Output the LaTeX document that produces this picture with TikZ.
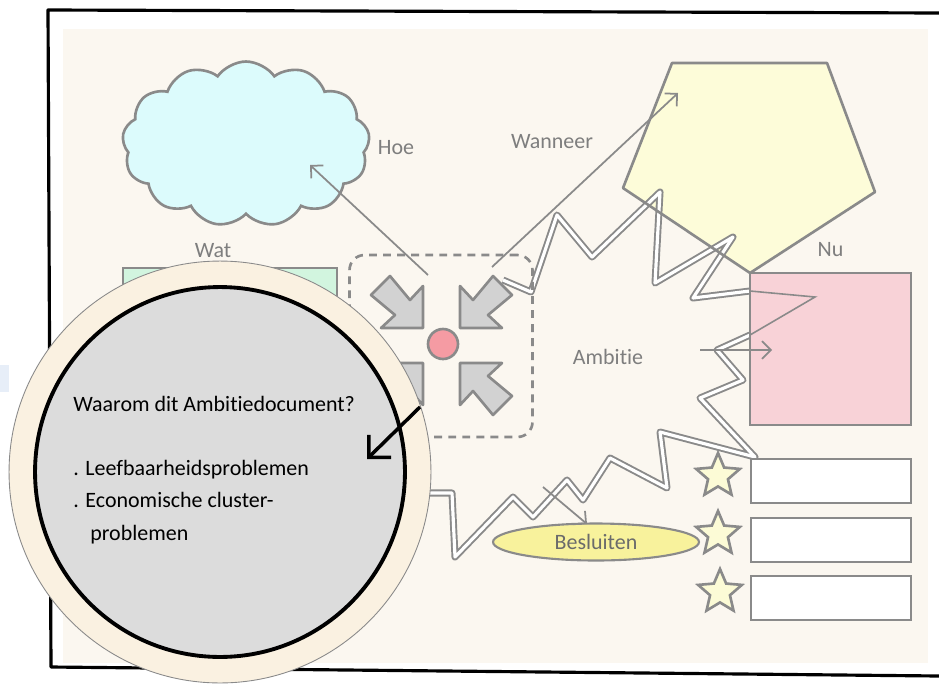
\documentclass[tikz,border=0pt]{standalone}
\usepackage{fontspec}
\setsansfont[Ligatures=NoCommon]{Carlito}
\usetikzlibrary{positioning, shapes.geometric, shapes.symbols, arrows.meta}

\definecolor{lijngrijs}{HTML}{8A8A8A}
\definecolor{tekstgrijs}{HTML}{7E7E7E}
\definecolor{papier}{HTML}{FBF7F0}
\definecolor{lensrand}{HTML}{FAF1E1}
\definecolor{lensgrijs}{HTML}{DCDCDC}
\definecolor{wolkblauw}{HTML}{DCFBFC}
\definecolor{vijfhoekgeel}{HTML}{FDFCD9}
\definecolor{nuroze}{HTML}{F8D2D7}
\definecolor{watgroen}{HTML}{D2F5DF}
\definecolor{pijlgrijs}{HTML}{D2D2D2}
\definecolor{puntrood}{HTML}{F59BA3}
\definecolor{besluitgeel}{HTML}{F8F29C}
\definecolor{stergeel}{HTML}{FCFBD6}
\definecolor{vaagblauw}{HTML}{E7EEF8}

\begin{document}
\begin{tikzpicture}[x={(0.02cm,0)}, y={(0,-0.02cm)},
    font=\sffamily\fontsize{12.5}{15}\selectfont,
    vorm/.style={draw=lijngrijs, line width=1.5pt},
    etiket/.style={text=tekstgrijs, inner sep=0pt},
    dunpijl/.style={draw=lijngrijs, line width=1pt, -{Straight Barb[length=5pt,width=10pt]}},
    blokpijl/.style={vorm, fill=pijlgrijs, line join=round},
    zigzag/.style={draw=lijngrijs, line width=1.1pt, double=white, double distance=1.8pt, line join=round},
    balk/.style={vorm, fill=white, minimum width=3.2cm, minimum height=0.88cm},
    ster/.style={vorm, fill=stergeel, star, star points=5, star point ratio=2.2, minimum size=0.92cm, inner sep=0pt}]
    \useasboundingbox (0,0) rectangle (939,683);
    \fill[white] (0,0) rectangle (939,683);
    \fill[vaagblauw] (0,365) rectangle (9,392);

    % Paper and the black frame
    \fill[papier] (63,29) rectangle (928,663);
    \draw[line width=1.8pt, line join=round] (939,13) -- (48,10) -- (51,667) -- (939,676);

    % Hoe: the cloud
    \node (wolk) [cloud, cloud puffs=13, cloud puff arc=110, aspect=1.5, vorm, fill=wolkblauw,
        minimum width=4.95cm, minimum height=3.3cm] at (246,144) {};
    \node (hoe) [etiket] at (396,148) {Hoe};

    % Wat: the green block behind the lens
    \node (wat) [etiket] at (213,251) {Wat};
    \fill[watgroen, draw=lijngrijs, line width=1.5pt] (123,268) rectangle (337,420);

    % Wanneer: the pentagon
    \coordinate (p1) at (672,63);
    \coordinate (p2) at (827,63);
    \coordinate (p3) at (875,192);
    \coordinate (p4) at (750,273);
    \coordinate (p5) at (623,188);
    \fill[vijfhoekgeel] (p1) -- (p2) -- (p3) -- (p4) -- (p5) -- cycle;
    \node (wanneer) [etiket] at (552,142) {Wanneer};

    % Ambitie: the zigzag burst
    \draw[zigzag] (503,280) -- (531,292) -- (557,215) -- (592,257) -- (660,192) -- (655,283)
        -- (733,237) -- (693,298) -- (750,291);
    \draw[zigzag] (750,335) -- (717,350) -- (743,380) -- (700,398) -- (755,457) -- (660,432)
        -- (667,488) -- (610,458) -- (583,500) -- (567,480) -- (533,517) -- (513,497)
        -- (455,557) -- (452,493) -- (425,493);
    \draw[vorm, line join=round] (p1) -- (p2) -- (p3) -- (p4) -- (p5) -- cycle;
    \node (ambitie) [etiket] at (608,357) {Ambitie};

    % Nu: the pink square
    \node (nu) [vorm, fill=nuroze, minimum width=3.22cm, minimum height=3.04cm] at (830.5,349) {};
    \node (nulabel) [etiket, above=0.3cm of nu] {Nu};
    \draw[lijngrijs, line width=0.9pt] (750,291) -- (815,297) -- (750,335);

    % Dashed box with the four block arrows round the red dot
    \node (kader) [draw=lijngrijs, line width=1.5pt, dash pattern=on 4.5pt off 3.5pt, rounded corners=0.3cm,
        minimum width=3.66cm, minimum height=3.64cm] at (441,346) {};
    \draw[blokpijl, shift={(423,328)}] (0,0) -- (-42,0) -- (-28,-13) -- (-52,-33) -- (-33,-52) -- (-13,-28) -- (0,-42) -- cycle;
    \draw[blokpijl, shift={(460,328)}, xscale=-1] (0,0) -- (-42,0) -- (-28,-13) -- (-52,-33) -- (-33,-52) -- (-13,-28) -- (0,-42) -- cycle;
    \draw[blokpijl, shift={(460,363)}, xscale=-1, yscale=-1] (0,0) -- (-42,0) -- (-28,-13) -- (-52,-33) -- (-33,-52) -- (-13,-28) -- (0,-42) -- cycle;
    \draw[blokpijl, shift={(423,363)}, yscale=-1] (0,0) -- (-42,0) -- (-28,-13) -- (-52,-33) -- (-33,-52) -- (-13,-28) -- (0,-42) -- cycle;
    \node (punt) [circle, vorm, fill=puntrood, minimum size=0.6cm, inner sep=0pt] at (443,344) {};

    % Arrows out of the box
    \coordinate (hoestart) at (428,275);
    \coordinate (hoeeind) at (310,165);
    \draw[dunpijl] (hoestart) -- (hoeeind);
    \coordinate (wanneerstart) at (492,267);
    \coordinate (wanneereind) at (678,93);
    \draw[dunpijl] (wanneerstart) -- (wanneereind);
    \coordinate (ambitiestart) at (700,350);
    \coordinate (ambitieeind) at (772,350);
    \draw[dunpijl] (ambitiestart) -- (ambitieeind);

    % Besluiten and the three starred bars
    \node (besluiten) [ellipse, vorm, line width=1.2pt, fill=besluitgeel, minimum width=4.12cm, minimum height=0.74cm,
        inner sep=0pt, text=tekstgrijs!85!black] at (596,542) {Besluiten};
    \coordinate (besluitstart) at (543,487);
    \coordinate (besluiteind) at (587,524);
    \draw[dunpijl] (besluitstart) -- (besluiteind);

    \node (balk1) [balk] at (831,481) {};
    \node (balk2) [balk] at (831,540) {};
    \node (balk3) [balk] at (831,598) {};
    \node (ster1) [ster] at (718,476) {};
    \node (ster2) [ster] at (718,534) {};
    \node (ster3) [ster] at (720,592) {};

    % The lens with the question
    \node (lens) [circle, draw=lijngrijs, line width=0.5pt, fill=lensrand, minimum size=8.44cm] at (220,472) {};
    \node (lensbinnen) [circle, draw=black, line width=2.2pt, fill=lensgrijs, minimum size=7.4cm] at (220,472) {};
    \node (vraag) [anchor=base west, inner sep=0pt] at (73,411) {Waarom dit Ambitiedocument?};
    \node (punt1) [anchor=base west, inner sep=0pt] at (73,475) {. Leefbaarheidsproblemen};
    \node (punt2) [anchor=base west, inner sep=0pt] at (73,507) {. Economische cluster-};
    \node (punt2b) [anchor=base west, inner sep=0pt] at (90,540) {problemen};
    \coordinate (lenspijlstart) at (420,407);
    \coordinate (lenspijleind) at (367,459);
    \draw[line width=2pt, -{Straight Barb[length=9pt,width=18pt]}] (lenspijlstart) -- (lenspijleind);
\end{tikzpicture}
\end{document}
